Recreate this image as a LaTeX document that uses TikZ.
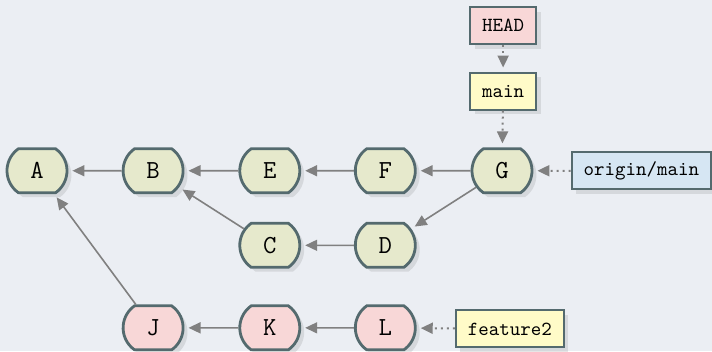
\documentclass[tikz,border=0pt]{standalone}
\usepackage{xcolor}
\usetikzlibrary{positioning, arrows.meta, shapes.misc, shadows}

\definecolor{bgcol}{HTML}{EBEEF3}
\definecolor{edgecol}{HTML}{546A6E}
\definecolor{commitgreen}{HTML}{E6E9CC}
\definecolor{commitpink}{HTML}{F8D7D7}
\definecolor{refyellow}{HTML}{FFFBC8}
\definecolor{refblue}{HTML}{D6E6F3}
\definecolor{linkgray}{HTML}{808080}

\begin{document}
\begin{tikzpicture}[
    >={Triangle[length=6pt, width=5.5pt]},
    font=\ttfamily,
    shade/.style={drop shadow={shadow xshift=2.2pt, shadow yshift=-2.2pt, fill=black!50, opacity=0.2}},
    commit/.style={rounded rectangle, rounded rectangle arc length=110, draw=edgecol, line width=1.4pt, fill=commitgreen, minimum width=30pt, minimum height=22pt, inner sep=0pt, font=\ttfamily\fontsize{13}{15}\selectfont, shade},
    featcommit/.style={commit, fill=commitpink},
    branch/.style={draw=edgecol, line width=1pt, minimum height=18.5pt, inner xsep=6pt, inner ysep=2pt, shade},
    parent/.style={->, draw=linkgray, line width=0.8pt, shorten >=2pt},
    points/.style={->, draw=linkgray, line width=1pt, dotted, shorten >=2pt}
]
% background and page size
\fill[bgcol] (0,0) rectangle (12.51,-6.17);
\useasboundingbox (0,0) rectangle (12.51,-6.17);

% main line of history
\node[commit] (A) at (0.65, -3.00) {A};
\node[commit] (B) at (2.69, -3.00) {B};
\node[commit] (E) at (4.74, -3.00) {E};
\node[commit] (F) at (6.77, -3.00) {F};
\node[commit] (G) at (8.82, -3.00) {G};

% merged side branch
\node[commit] (C) at (4.74, -4.31) {C};
\node[commit] (D) at (6.77, -4.31) {D};

% feature2 branch
\node[featcommit] (J) at (2.69, -5.76) {J};
\node[featcommit] (K) at (4.74, -5.76) {K};
\node[featcommit] (L) at (6.77, -5.76) {L};

% refs
\node[branch, fill=commitpink, minimum width=32pt] (head)   at (8.84, -0.45) {HEAD};
\node[branch, fill=refyellow,  minimum width=32pt] (mainref) at (8.84, -1.60) {main};
\node[branch, fill=refblue]   (originref) at (11.27, -3.00) {origin/main};
\node[branch, fill=refyellow] (featref)   at (8.96, -5.78) {feature2};

% parent links
\foreach \child/\prev in {B/A, E/B, F/E, G/F, G/D, D/C, C/B, J/A, K/J, L/K} {
    \draw[parent] (\child) -- (\prev);
}

% ref pointers
\draw[points] (head) -- (mainref);
\draw[points] (mainref) -- (G);
\draw[points] (originref) -- (G);
\draw[points] (featref) -- (L);
\end{tikzpicture}
\end{document}
